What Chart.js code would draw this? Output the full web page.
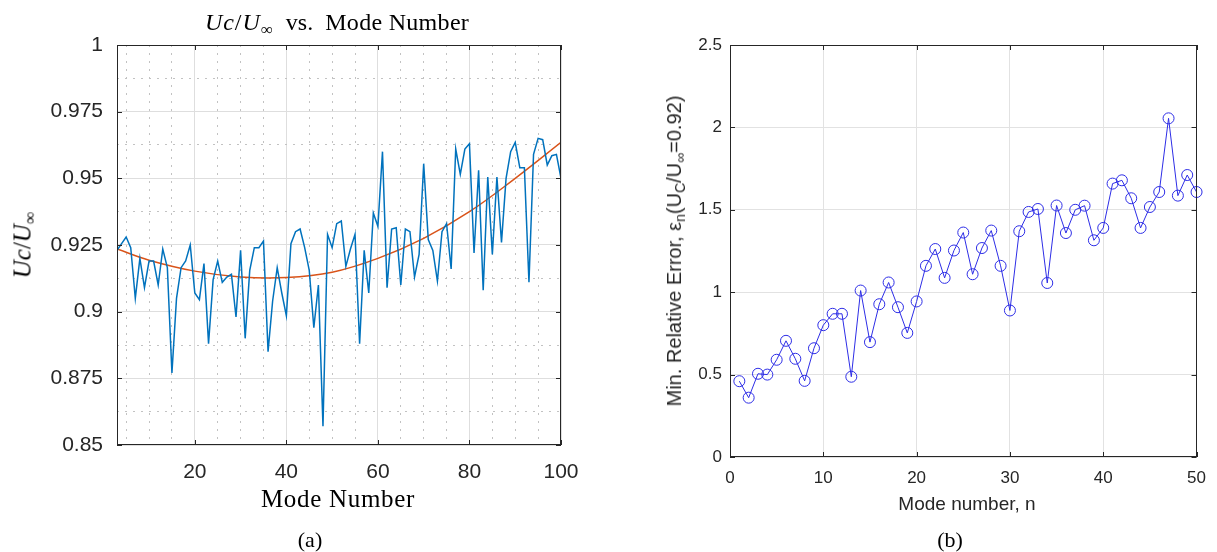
<!DOCTYPE html>
<html>
<head>
<meta charset="utf-8">
<title>Uc/U∞ vs. Mode Number</title>
<script src="https://cdn.jsdelivr.net/npm/chart.js@4.4.1/dist/chart.umd.min.js"></script>
<style>
  html, body { margin: 0; padding: 0; background: #fff; }
  #page { position: relative; width: 1217px; height: 552px; overflow: hidden; }
  canvas { position: absolute; top: 0; }
  #chartA { left: 0; }
  #chartB { left: 600px; }
  .lbl { position: absolute; white-space: nowrap; line-height: 1; color: #000; transform: translate(-50%, -50%); }
  .serif { font-family: "Liberation Serif", "DejaVu Serif", serif; }
  .sans { font-family: "Liberation Sans", Arial, sans-serif; color: #262626; }
  .rot { transform: translate(-50%, -50%) rotate(-90deg); }
  sub { font-size: 70%; line-height: 0; vertical-align: -0.3em; }
  .ttl { word-spacing: 6px; }
  .ttl .m { letter-spacing: 1px; }
  .ttl .w { word-spacing: 0; letter-spacing: 0.3px; }
</style>
</head>
<body>
<div id="page">
  <canvas id="chartA" width="600" height="552"></canvas>
  <canvas id="chartB" width="617" height="552"></canvas>

  <div class="lbl serif ttl" style="left:337px;top:22px;font-size:24px;"><span class="m"><i>Uc</i>/<i>U</i><sub>∞</sub></span> <span>vs.</span> <span class="w">Mode Number</span></div>
  <div class="lbl serif" style="left:338px;top:498px;font-size:25px;letter-spacing:0.7px;">Mode Number</div>
  <div class="lbl serif rot" style="left:22px;top:245px;font-size:25px;"><i>Uc</i>/<i>U</i><sub>∞</sub></div>
  <div class="lbl serif" style="left:310px;top:540px;font-size:22px;">(a)</div>

  <div class="lbl sans" style="left:967px;top:503px;font-size:19px;">Mode number, n</div>
  <div class="lbl sans rot" style="left:674px;top:251px;font-size:20px;">Min. Relative Error, ε<sub>n</sub>(U<sub>C</sub>/U<sub>∞</sub>=0.92)</div>
  <div class="lbl serif" style="left:950px;top:540px;font-size:22px;">(b)</div>
</div>

<script>
// (a) Uc/U_inf per mode number, with fitted trend
const modeNumbers = [3, 4, 5, 6, 7, 8, 9, 10, 11, 12, 13, 14, 15, 16, 17, 18, 19, 20,
  21, 22, 23, 24, 25, 26, 27, 28, 29, 30, 31, 32, 33, 34, 35, 36, 37, 38, 39, 40,
  41, 42, 43, 44, 45, 46, 47, 48, 49, 50, 51, 52, 53, 54, 55, 56, 57, 58, 59, 60,
  61, 62, 63, 64, 65, 66, 67, 68, 69, 70, 71, 72, 73, 74, 75, 76, 77, 78, 79, 80,
  81, 82, 83, 84, 85, 86, 87, 88, 89, 90, 91, 92, 93, 94, 95, 96, 97, 98, 99, 100];
const ucRatio = [0.923, 0.9255, 0.928, 0.924, 0.905, 0.920, 0.909, 0.919, 0.919, 0.910,
  0.9235, 0.9165, 0.877, 0.905, 0.9165, 0.919, 0.925, 0.907, 0.9045, 0.918,
  0.888, 0.912, 0.919, 0.911, 0.913, 0.914, 0.898, 0.923, 0.890, 0.9155,
  0.924, 0.924, 0.9265, 0.885, 0.904, 0.9165, 0.907, 0.8985, 0.9255, 0.930,
  0.931, 0.924, 0.9155, 0.894, 0.910, 0.857, 0.929, 0.924, 0.933, 0.934,
  0.917, 0.9235, 0.929, 0.888, 0.923, 0.907, 0.937, 0.932, 0.960, 0.909,
  0.931, 0.9315, 0.910, 0.931, 0.930, 0.913, 0.9215, 0.9555, 0.927, 0.923,
  0.9115, 0.930, 0.933, 0.916, 0.961, 0.9515, 0.961, 0.963, 0.922, 0.953,
  0.908, 0.9505, 0.9215, 0.9505, 0.926, 0.950, 0.960, 0.9635, 0.954, 0.954,
  0.911, 0.959, 0.965, 0.9645, 0.955, 0.9585, 0.959, 0.950];
const fitModes = [3, 10, 20, 30, 40, 50, 60, 70, 80, 90, 100];
const fitValues = [0.9235, 0.9193, 0.9152, 0.9130, 0.9128, 0.9148, 0.9200, 0.9275, 0.9375, 0.9500, 0.9635];
const xTicksA = [20, 40, 60, 80, 100];
const xMinorA = [5, 10, 15, 25, 30, 35, 45, 50, 55, 65, 70, 75, 85, 90, 95];
const yTicksA = [0.85, 0.875, 0.9, 0.925, 0.95, 0.975, 1];
const yMinorA = [0.8625, 0.8875, 0.9125, 0.9375, 0.9625, 0.9875];

// (b) minimum relative error per mode number
const modeN = [1, 2, 3, 4, 5, 6, 7, 8, 9, 10, 11, 12, 13, 14, 15, 16, 17, 18, 19, 20,
  21, 22, 23, 24, 25, 26, 27, 28, 29, 30, 31, 32, 33, 34, 35, 36, 37, 38, 39, 40,
  41, 42, 43, 44, 45, 46, 47, 48, 49, 50];
const minRelError = [0.46, 0.36, 0.505, 0.50, 0.59, 0.705, 0.596, 0.462, 0.66, 0.80,
  0.869, 0.869, 0.487, 1.01, 0.697, 0.927, 1.059, 0.909, 0.753, 0.944,
  1.16, 1.262, 1.087, 1.253, 1.362, 1.109, 1.268, 1.374, 1.16, 0.889,
  1.37, 1.487, 1.505, 1.056, 1.526, 1.359, 1.50, 1.525, 1.315, 1.39,
  1.659, 1.679, 1.57, 1.39, 1.517, 1.608, 2.055, 1.586, 1.711, 1.608];
const xTicksB = [0, 10, 20, 30, 40, 50];
const yTicksB = [0, 0.5, 1, 1.5, 2, 2.5];

const axisColor = '#262626';
const sansFamily = '"Liberation Sans", Arial, sans-serif';

// MATLAB-style box with inward tick marks
const boxTicks = {
  id: 'boxTicks',
  afterDraw(chart) {
    const { ctx, chartArea: a, scales } = chart;
    const len = 5;
    ctx.save();
    ctx.strokeStyle = axisColor;
    ctx.lineWidth = 1;
    ctx.beginPath();
    scales.x.ticks.forEach(t => {
      const px = Math.round(scales.x.getPixelForValue(t.value)) + 0.5;
      ctx.moveTo(px, a.bottom); ctx.lineTo(px, a.bottom - len);
      ctx.moveTo(px, a.top); ctx.lineTo(px, a.top + len);
    });
    scales.y.ticks.forEach(t => {
      const py = Math.round(scales.y.getPixelForValue(t.value)) + 0.5;
      ctx.moveTo(a.left, py); ctx.lineTo(a.left + len, py);
      ctx.moveTo(a.right, py); ctx.lineTo(a.right - len, py);
    });
    ctx.stroke();
    ctx.strokeRect(Math.round(a.left) + 0.5, Math.round(a.top) + 0.5,
      Math.round(a.width) - 1, Math.round(a.height) - 1);
    ctx.restore();
  }
};

function fixedTicks(list) {
  return scale => { scale.ticks = list.map(v => ({ value: v })); };
}

new Chart(document.getElementById('chartA'), {
  type: 'line',
  data: {
    datasets: [
      {
        data: modeNumbers.map((m, i) => ({ x: m, y: ucRatio[i] })),
        borderColor: '#0072BD', borderWidth: 1.5, pointRadius: 0, tension: 0
      },
      {
        data: fitModes.map((m, i) => ({ x: m, y: fitValues[i] })),
        borderColor: '#D95319', borderWidth: 1.5, pointRadius: 0, tension: 0.4
      }
    ]
  },
  options: {
    responsive: false,
    animation: false,
    layout: { padding: { top: 45, right: 39, left: 0, bottom: 0 } },
    plugins: { legend: { display: false }, tooltip: { enabled: false } },
    scales: {
      x: {
        type: 'linear', min: 3, max: 100,
        afterBuildTicks: fixedTicks(xTicksA),
        afterFit: s => { s.height = 107; },
        grid: { color: '#dedede', drawTicks: false },
        border: { display: false },
        ticks: { font: { family: sansFamily, size: 21 }, color: axisColor, padding: 15,
          maxRotation: 0, autoSkip: false, callback: v => String(v) }
      },
      xMinor: {
        type: 'linear', position: 'bottom', min: 3, max: 100,
        afterBuildTicks: fixedTicks(xMinorA),
        afterFit: s => { s.height = 0; },
        grid: { color: '#c2c2c2', drawTicks: false },
        border: { display: false, dash: [2, 6] },
        ticks: { display: false }
      },
      y: {
        type: 'linear', min: 0.85, max: 1,
        afterBuildTicks: fixedTicks(yTicksA),
        afterFit: s => { s.width = 117; },
        grid: { color: '#dedede', drawTicks: false },
        border: { display: false },
        ticks: { font: { family: sansFamily, size: 21 }, color: axisColor, padding: 14,
          autoSkip: false, callback: v => String(v) }
      },
      yMinor: {
        type: 'linear', position: 'left', min: 0.85, max: 1,
        afterBuildTicks: fixedTicks(yMinorA),
        afterFit: s => { s.width = 0; },
        grid: { color: '#c2c2c2', drawTicks: false },
        border: { display: false, dash: [2, 6] },
        ticks: { display: false }
      }
    }
  },
  plugins: [boxTicks]
});

new Chart(document.getElementById('chartB'), {
  type: 'line',
  data: {
    datasets: [{
      data: modeN.map((n, i) => ({ x: n, y: minRelError[i] })),
      borderColor: 'rgb(45,45,230)', borderWidth: 1, tension: 0,
      pointStyle: 'circle', pointRadius: 5.5, pointBorderWidth: 1,
      pointBorderColor: 'rgb(45,45,230)', pointBackgroundColor: 'rgba(0,0,0,0)',
      clip: 7
    }]
  },
  options: {
    responsive: false,
    animation: false,
    layout: { padding: { top: 45, right: 14, left: 0, bottom: 0 } },
    plugins: { legend: { display: false }, tooltip: { enabled: false } },
    scales: {
      x: {
        type: 'linear', min: 0, max: 50,
        afterBuildTicks: fixedTicks(xTicksB),
        afterFit: s => { s.height = 95; },
        grid: { color: '#e2e2e2', drawTicks: false },
        border: { display: false },
        ticks: { font: { family: sansFamily, size: 17 }, color: axisColor, padding: 11,
          maxRotation: 0, autoSkip: false, callback: v => String(v) }
      },
      y: {
        type: 'linear', min: 0, max: 2.5,
        afterBuildTicks: fixedTicks(yTicksB),
        afterFit: s => { s.width = 130; },
        grid: { color: '#e2e2e2', drawTicks: false },
        border: { display: false },
        ticks: { font: { family: sansFamily, size: 17 }, color: axisColor, padding: 8,
          autoSkip: false, callback: v => String(v) }
      }
    }
  },
  plugins: [boxTicks]
});
</script>
</body>
</html>
